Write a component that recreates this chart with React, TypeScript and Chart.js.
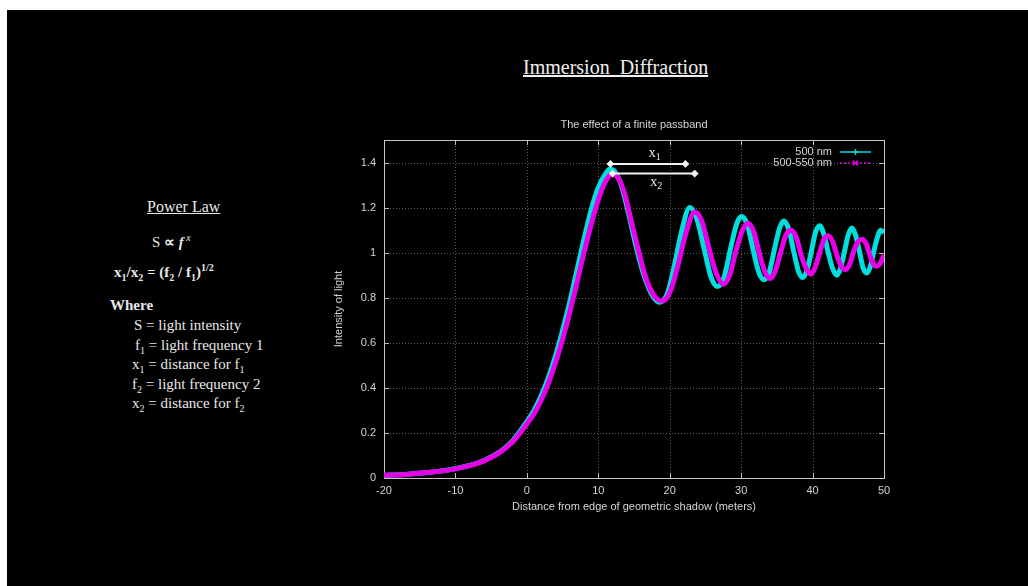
import React, { useEffect, useRef } from "react";
import { Chart, registerables } from "chart.js";

Chart.register(...registerables);

// ---------- data ----------
const xTicks = [-20, -10, 0, 10, 20, 30, 40, 50];
const yTicks = [0, 0.2, 0.4, 0.6, 0.8, 1, 1.2, 1.4];

// 500 nm (cyan)
const narrowX = [-20, -17, -14, -11, -8, -6, -4, -2, 0, 1, 2, 3, 4, 5, 6, 7, 8, 9, 10, 11, 11.6, 12.3, 13.2, 14.2, 15.2, 16.2, 17.4, 18.6, 19.7, 20.7, 21.7, 22.8, 23.8, 24.8, 25.8, 26.7, 27.6, 28.6, 29.4, 30.1, 30.9, 31.7, 32.5, 33.2, 33.9, 34.7, 35.4, 36.0, 36.7, 37.4, 38.0, 38.6, 39.2, 39.8, 40.4, 41.0, 41.6, 42.2, 42.8, 43.4, 43.9, 44.5, 45.0, 45.5, 46.0, 46.6, 47.1, 47.6, 48.1, 48.6, 49.1, 49.5, 50];
const narrowY = [0.012, 0.016, 0.024, 0.036, 0.056, 0.078, 0.112, 0.165, 0.25, 0.3, 0.365, 0.445, 0.54, 0.655, 0.78, 0.92, 1.06, 1.19, 1.29, 1.35, 1.37, 1.36, 1.3, 1.18, 1.04, 0.92, 0.82, 0.78, 0.82, 0.95, 1.1, 1.2, 1.15, 1.02, 0.89, 0.85, 0.89, 1.03, 1.13, 1.16, 1.12, 1.01, 0.91, 0.88, 0.91, 1.02, 1.11, 1.14, 1.1, 1.0, 0.92, 0.89, 0.92, 1.0, 1.09, 1.12, 1.08, 1.0, 0.93, 0.9, 0.93, 1.01, 1.08, 1.11, 1.08, 1.0, 0.93, 0.91, 0.94, 1.01, 1.07, 1.1, 1.09];

// 500-550 nm (magenta)
const bandX = [-20, -17, -14, -11, -8, -6, -4, -2, 0, 1, 2, 3, 4, 5, 6, 7, 8, 9, 10, 11, 12.0, 12.8, 13.7, 14.7, 15.7, 16.7, 17.8, 19.0, 20.1, 21.2, 22.3, 23.5, 24.5, 25.5, 26.5, 27.5, 28.4, 29.3, 30.2, 31.0, 31.8, 32.6, 33.4, 34.1, 34.8, 35.6, 36.3, 37.0, 37.7, 38.4, 39.1, 39.7, 40.3, 41.0, 41.6, 42.2, 42.8, 43.4, 44.0, 44.6, 45.2, 45.8, 46.4, 46.9, 47.5, 48.0, 48.5, 49.0, 49.5, 50];
const bandY = [0.012, 0.016, 0.024, 0.035, 0.055, 0.076, 0.109, 0.16, 0.24, 0.285, 0.345, 0.42, 0.51, 0.615, 0.735, 0.865, 1.0, 1.125, 1.235, 1.315, 1.35, 1.33, 1.26, 1.13, 1.0, 0.885, 0.81, 0.785, 0.83, 0.95, 1.09, 1.18, 1.14, 1.02, 0.91, 0.86, 0.9, 1.01, 1.1, 1.13, 1.09, 0.99, 0.91, 0.885, 0.92, 1.01, 1.08, 1.1, 1.07, 0.99, 0.93, 0.905, 0.93, 1.0, 1.06, 1.075, 1.05, 0.99, 0.94, 0.925, 0.95, 1.01, 1.05, 1.06, 1.04, 0.99, 0.95, 0.94, 0.955, 0.99];

const arrow1X = [11.7, 22.2];
const arrow1Y = [1.394, 1.394];
const arrow2X = [12.0, 23.5];
const arrow2Y = [1.351, 1.351];
const label1 = { x: 17.9, y: 1.438, sub: "1" };
const label2 = { x: 18.1, y: 1.31, sub: "2" };

const seriesNames = ["500 nm", "500-550 nm"];
const chartTitle = "The effect of a finite passband";
const xTitle = "Distance from edge of geometric shadow (meters)";
const yTitle = "Intensity of light";

const CYAN = "rgb(0,222,222)";
const MAGENTA = "rgb(232,0,232)";
const TXT = "#d4d4d4";
const SANS = "'Liberation Sans', Arial, sans-serif";
const SERIF = "'Liberation Serif', 'Times New Roman', serif";

const pts = (xs: number[], ys: number[]) => xs.map((x, i) => ({ x, y: ys[i] }));

const decor = {
  id: "decor",
  beforeDatasetsDraw(chart: any) {
    const { ctx, chartArea: a, scales } = chart;
    const x = scales.x, y = scales.y;
    ctx.save();
    ctx.lineWidth = 1;
    ctx.strokeStyle = "rgba(150,150,150,0.6)";
    ctx.setLineDash([1, 2]);
    ctx.beginPath();
    xTicks.forEach((v) => {
      if (v === xTicks[0] || v === xTicks[xTicks.length - 1]) return;
      const px = Math.round(x.getPixelForValue(v)) + 0.5;
      ctx.moveTo(px, a.top);
      ctx.lineTo(px, a.bottom);
    });
    yTicks.forEach((v) => {
      if (v === 0) return;
      const py = Math.round(y.getPixelForValue(v)) + 0.5;
      ctx.moveTo(a.left, py);
      ctx.lineTo(a.right, py);
    });
    ctx.stroke();
    ctx.setLineDash([]);
    ctx.strokeStyle = "#bdbdbd";
    ctx.beginPath();
    const L = 5;
    xTicks.forEach((v) => {
      const px = Math.round(x.getPixelForValue(v)) + 0.5;
      ctx.moveTo(px, a.bottom);
      ctx.lineTo(px, a.bottom - L);
      ctx.moveTo(px, a.top);
      ctx.lineTo(px, a.top + L);
    });
    yTicks.forEach((v) => {
      const py = Math.round(y.getPixelForValue(v)) + 0.5;
      ctx.moveTo(a.left, py);
      ctx.lineTo(a.left + L, py);
      ctx.moveTo(a.right, py);
      ctx.lineTo(a.right - L, py);
    });
    ctx.stroke();
    ctx.strokeStyle = "#c8c8c8";
    ctx.strokeRect(Math.round(a.left) + 0.5, Math.round(a.top) + 0.5, Math.round(a.right - a.left), Math.round(a.bottom - a.top));
    ctx.restore();
  },
  afterDraw(chart: any) {
    const { ctx, chartArea: a, scales } = chart;
    const x = scales.x, y = scales.y;
    ctx.save();
    ctx.fillStyle = TXT;
    ctx.font = `11px ${SANS}`;
    ctx.textAlign = "center";
    ctx.textBaseline = "middle";
    ctx.fillText(chartTitle, (a.left + a.right) / 2, a.top - 15);
    const rows = [
      { name: seriesNames[0], color: CYAN, dash: [] as number[], mark: "+" },
      { name: seriesNames[1], color: MAGENTA, dash: [2, 2], mark: "x" },
    ];
    rows.forEach((r, i) => {
      const yy = a.top + 12 + i * 11;
      ctx.textAlign = "right";
      ctx.fillStyle = TXT;
      ctx.fillText(r.name, a.right - 52, yy);
      ctx.strokeStyle = r.color;
      ctx.lineWidth = 1.5;
      ctx.setLineDash(r.dash);
      ctx.beginPath();
      ctx.moveTo(a.right - 44, yy);
      ctx.lineTo(a.right - 13, yy);
      ctx.stroke();
      ctx.setLineDash([]);
      const mx = a.right - 28.5;
      ctx.beginPath();
      if (r.mark === "+") {
        ctx.moveTo(mx - 3, yy); ctx.lineTo(mx + 3, yy);
        ctx.moveTo(mx, yy - 3); ctx.lineTo(mx, yy + 3);
      } else {
        ctx.moveTo(mx - 2.5, yy - 2.5); ctx.lineTo(mx + 2.5, yy + 2.5);
        ctx.moveTo(mx + 2.5, yy - 2.5); ctx.lineTo(mx - 2.5, yy + 2.5);
      }
      ctx.stroke();
    });
    [label1, label2].forEach((lb) => {
      const px = x.getPixelForValue(lb.x);
      const py = y.getPixelForValue(lb.y);
      ctx.fillStyle = "#e6e6e6";
      ctx.textAlign = "right";
      ctx.textBaseline = "alphabetic";
      ctx.font = `14px ${SERIF}`;
      ctx.fillText("x", px + 1, py + 3);
      ctx.textAlign = "left";
      ctx.font = `10px ${SERIF}`;
      ctx.fillText(lb.sub, px + 1, py + 6);
    });
    ctx.restore();
  },
};

function PlotCanvas() {
  const ref = useRef<HTMLCanvasElement | null>(null);
  useEffect(() => {
    if (!ref.current) return;
    const fmt = (v: number) => String(Number(v.toFixed(1)));
    const chart = new Chart(ref.current, {
      type: "line",
      data: {
        datasets: [
          { label: "x1", data: pts(arrow1X, arrow1Y), borderColor: "#f0f0f0", backgroundColor: "#f0f0f0", borderWidth: 2, pointRadius: 2.5, pointStyle: "rectRot", order: 0 },
          { label: "x2", data: pts(arrow2X, arrow2Y), borderColor: "#f0f0f0", backgroundColor: "#f0f0f0", borderWidth: 2, pointRadius: 2.5, pointStyle: "rectRot", order: 0 },
          { label: seriesNames[1], data: pts(bandX, bandY), borderColor: MAGENTA, borderWidth: 5, pointRadius: 0, cubicInterpolationMode: "monotone", order: 1 },
          { label: seriesNames[0], data: pts(narrowX, narrowY), borderColor: CYAN, borderWidth: 5, pointRadius: 0, cubicInterpolationMode: "monotone", order: 2 },
        ],
      },
      options: {
        animation: false,
        responsive: false,
        maintainAspectRatio: false,
        layout: { padding: { top: 30, right: 26, left: 0, bottom: 0 } },
        plugins: { legend: { display: false }, tooltip: { enabled: false } },
        events: [],
        scales: {
          x: {
            type: "linear", min: -20, max: 50,
            afterBuildTicks: (s: any) => { s.ticks = xTicks.map((v) => ({ value: v })); },
            afterFit: (s: any) => { s.height = 42; },
            ticks: { color: TXT, font: { size: 11, family: SANS }, padding: 6, maxRotation: 0, callback: (v: any) => fmt(Number(v)) },
            grid: { display: false, drawTicks: false },
            border: { display: false },
            title: { display: true, text: xTitle, color: TXT, font: { size: 11, family: SANS }, padding: { top: 0, bottom: 6 } },
          },
          y: {
            type: "linear", min: 0, max: 1.5,
            afterBuildTicks: (s: any) => { s.ticks = yTicks.map((v) => ({ value: v })); },
            afterFit: (s: any) => { s.width = 54; },
            ticks: { color: TXT, font: { size: 11, family: SANS }, padding: 8, callback: (v: any) => fmt(Number(v)) },
            grid: { display: false, drawTicks: false },
            border: { display: false },
            title: { display: true, text: yTitle, color: TXT, font: { size: 11, family: SANS }, padding: { top: 2, bottom: 0 } },
          },
        },
      },
      plugins: [decor],
    } as any);
    return () => chart.destroy();
  }, []);
  return <canvas ref={ref} width={580} height={410} style={{ position: "absolute", left: 330 - 7, top: 110 - 10, width: 580, height: 410 }} />;
}

const line = (top: number, left: number, content: React.ReactNode, extra: React.CSSProperties = {}) => (
  <div style={{ position: "absolute", top: top - 10 - 10, left: left - 7, height: 20, lineHeight: "20px", whiteSpace: "pre", ...extra }}>{content}</div>
);

export default function App() {
  useEffect(() => {
    document.body.style.margin = "0";
    document.body.style.background = "#fff";
  }, []);
  return (
    <div style={{ position: "fixed", left: 7, top: 10, right: 0, bottom: 0, background: "#000", color: "#e8e8e8", fontFamily: SERIF, fontSize: 15, overflow: "hidden" }}>
      <div style={{ position: "absolute", left: 0, width: 1021, top: 67 - 10 - 13 }}>
        <span style={{ position: "absolute", left: 525 - 7 - 2, fontSize: 20, textDecoration: "underline", whiteSpace: "pre", lineHeight: "26px", color: "#f0f0f0" }}>Immersion  Diffraction</span>
      </div>
      {line(207, 147, <span style={{ textDecoration: "underline" }}>Power Law</span>, { fontSize: 16 })}
      {line(238, 152, <span>S <span style={{ fontWeight: "bold" }}>∝</span> <b><i>f</i></b><sup style={{ fontSize: 10, fontStyle: "italic" }}> x</sup></span>)}
      {line(268, 114, <span style={{ fontWeight: "bold" }}>x<sub style={{ fontSize: 10 }}>1</sub>/x<sub style={{ fontSize: 10 }}>2</sub> = (f<sub style={{ fontSize: 10 }}>2</sub> / f<sub style={{ fontSize: 10 }}>1</sub>)<sup style={{ fontSize: 10 }}>1/2</sup></span>)}
      {line(305, 110, <b>Where</b>)}
      {line(325, 134, <span>S = light intensity</span>)}
      {line(345, 135, <span>f<sub style={{ fontSize: 10 }}>1</sub> = light frequency 1</span>)}
      {line(364, 132, <span>x<sub style={{ fontSize: 10 }}>1</sub> = distance for f<sub style={{ fontSize: 10 }}>1</sub></span>)}
      {line(384, 132, <span>f<sub style={{ fontSize: 10 }}>2</sub> = light frequency 2</span>)}
      {line(403, 132, <span>x<sub style={{ fontSize: 10 }}>2</sub> = distance for f<sub style={{ fontSize: 10 }}>2</sub></span>)}
      <PlotCanvas />
    </div>
  );
}
